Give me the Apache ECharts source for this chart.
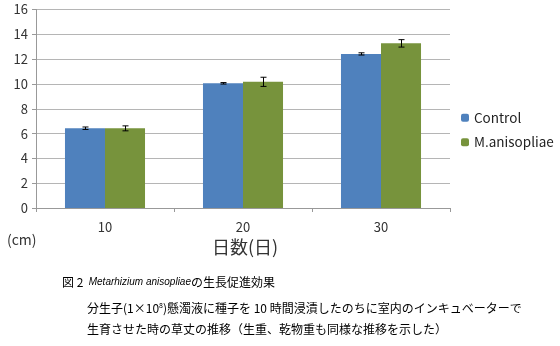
<!DOCTYPE html>
<html><head><meta charset="utf-8">
<script src="https://cdn.jsdelivr.net/npm/echarts@6/dist/echarts.min.js"></script>
<style>html,body{margin:0;padding:0;background:#fff}#c{width:560px;height:346px}</style>
</head><body><div id="c"></div>
<script>
const categories = ['10', '20', '30'];
const controlValues = [6.43, 10.05, 12.42];
const controlErrors = [0.1, 0.06, 0.09];
const maValues = [6.42, 10.17, 13.27];
const maErrors = [0.2, 0.37, 0.3];
const seriesNames = ['Control', 'M.anisopliae'];

const chart = echarts.init(document.getElementById('c'));
const font = '"Noto Sans CJK JP", "Noto Sans", sans-serif';

function errData(vals, errs) {
  return vals.map((v, i) => [i, v - errs[i], v + errs[i]]);
}
function errRender(offset) {
  return function (params, api) {
    const i = api.value(0);
    const lo = api.coord([i, api.value(1)]);
    const hi = api.coord([i, api.value(2)]);
    const bw = api.size([1, 0])[0];
    const x = Math.round(lo[0] + offset * bw * 0.145) + 0.5;
    const cap = 3;
    const st = { stroke: '#000', lineWidth: 1 };
    return { type: 'group', children: [
      { type: 'line', shape: { x1: x, y1: lo[1], x2: x, y2: hi[1] }, style: st },
      { type: 'line', shape: { x1: x - cap, y1: lo[1], x2: x + cap, y2: lo[1] }, style: st },
      { type: 'line', shape: { x1: x - cap, y1: hi[1], x2: x + cap, y2: hi[1] }, style: st }
    ]};
  };
}

chart.setOption({
  animation: false,
  grid: { left: 36, right: 110, top: 9.5, bottom: 138 },
  legend: {
    orient: 'vertical', left: 456, top: 106, itemWidth: 8, itemHeight: 8, itemGap: 11,
    data: seriesNames,
    textStyle: { fontFamily: font, fontSize: 13.5, color: '#222' }
  },
  xAxis: {
    type: 'category', data: categories,
    axisLine: { lineStyle: { color: '#999' } },
    axisTick: { show: true, alignWithLabel: false, length: 4, lineStyle: { color: '#999' } },
    axisLabel: { margin: 13, fontFamily: font, fontSize: 13, color: '#333' }
  },
  yAxis: {
    type: 'value', min: 0, max: 16, interval: 2,
    axisLine: { show: true, lineStyle: { color: '#999' } },
    axisTick: { show: true, length: 4, lineStyle: { color: '#999' } },
    axisLabel: { margin: 8, fontFamily: font, fontSize: 13, color: '#333' },
    splitLine: { lineStyle: { color: '#b5b5b5' } }
  },
  series: [
    { name: seriesNames[0], type: 'bar', data: controlValues, barGap: '0%', barCategoryGap: '42%',
      itemStyle: { color: '#4F81BD' } },
    { name: seriesNames[1], type: 'bar', data: maValues,
      itemStyle: { color: '#77933C' } },
    { type: 'custom', renderItem: errRender(-1), data: errData(controlValues, controlErrors), z: 10, silent: true },
    { type: 'custom', renderItem: errRender(1), data: errData(maValues, maErrors), z: 10, silent: true }
  ],
  graphic: [
    { type: 'text', left: 7, top: 233, style: { text: '(cm)', font: '14px ' + font, fill: '#333' } },
    { type: 'text', left: 212, top: 238, style: { text: '日数(日)', font: '18px ' + font, fill: '#333' } },
    { type: 'text', left: 62, top: 276, style: {
        rich: {
          n: { fontFamily: font, fontSize: 12, fill: '#000' },
          i: { fontFamily: '"Liberation Sans", sans-serif', fontSize: 10, fontStyle: 'italic', fill: '#000' }
        },
        text: '{n|図 2  }{i|Metarhizium anisopliae}{n|の生長促進効果}' } },
    { type: 'text', left: 87, top: 302, style: {
        rich: {
          n: { fontFamily: font, fontSize: 12, fill: '#000' },
          s: { fontFamily: font, fontSize: 7, fill: '#000', verticalAlign: 'top', padding: [0, 0, 6, 0] }
        },
        text: '{n|分生子(1×10}{s|8}{n|)懸濁液に種子を 10 時間浸漬したのちに室内のインキュベーターで}' } },
    { type: 'text', left: 87, top: 323, style: { text: '生育させた時の草丈の推移（生重、乾物重も同様な推移を示した）', font: '12px ' + font, fill: '#000' } }
  ]
});
</script></body></html>
